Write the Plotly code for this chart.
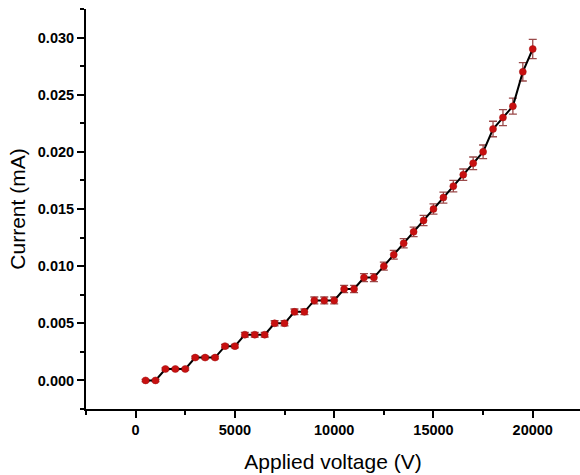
import plotly.graph_objects as go

# Applied voltage (V)
voltage = [500, 1000, 1500, 2000, 2500, 3000, 3500, 4000, 4500, 5000,
           5500, 6000, 6500, 7000, 7500, 8000, 8500, 9000, 9500, 10000,
           10500, 11000, 11500, 12000, 12500, 13000, 13500, 14000, 14500, 15000,
           15500, 16000, 16500, 17000, 17500, 18000, 18500, 19000, 19500, 20000]

# Measured current (mA)
current = [0.000, 0.000, 0.001, 0.001, 0.001, 0.002, 0.002, 0.002, 0.003, 0.003,
           0.004, 0.004, 0.004, 0.005, 0.005, 0.006, 0.006, 0.007, 0.007, 0.007,
           0.008, 0.008, 0.009, 0.009, 0.010, 0.011, 0.012, 0.013, 0.014, 0.015,
           0.016, 0.017, 0.018, 0.019, 0.020, 0.022, 0.023, 0.024, 0.027, 0.029]

# Standard deviation of the current (mA)
current_err = [0.0001, 0.0001, 0.0001, 0.0001, 0.0001, 0.00012, 0.00012, 0.00012, 0.00015, 0.00015,
               0.0002, 0.0002, 0.0002, 0.00022, 0.00022, 0.00025, 0.00025, 0.0003, 0.0003, 0.0003,
               0.00032, 0.00032, 0.00035, 0.00035, 0.00035, 0.00038, 0.0004, 0.00042, 0.00045, 0.00045,
               0.00048, 0.0005, 0.0005, 0.00055, 0.0006, 0.00068, 0.0007, 0.0007, 0.0008, 0.00085]

FONT = "Liberation Sans, Arial, sans-serif"

fig = go.Figure()
fig.add_trace(go.Scatter(
    x=voltage,
    y=current,
    mode="lines+markers",
    line=dict(color="black", width=2),
    marker=dict(color="#c81010", size=7, symbol="circle",
                line=dict(color="#a01010", width=0.5)),
    error_y=dict(type="data", array=current_err, visible=True,
                 color="#9a4a4a", thickness=1.3, width=4),
    showlegend=False,
))

axis_common = dict(
    showline=True,
    linecolor="black",
    linewidth=2,
    ticks="outside",
    ticklen=7,
    tickwidth=2,
    tickcolor="black",
    showgrid=False,
    zeroline=False,
    mirror=False,
    tickfont=dict(family=FONT, size=14.5, color="black", weight="bold"),
)

fig.update_xaxes(
    **axis_common,
    range=[-2500, 22380],
    tick0=0,
    dtick=5000,
    tickformat="d",
    minor=dict(dtick=2500, tick0=0, ticks="outside", ticklen=4, tickwidth=2,
               tickcolor="black", showgrid=False),
    title=dict(text="Applied voltage (V)",
               font=dict(family=FONT, size=21, color="black"), standoff=17),
)

fig.update_yaxes(
    **axis_common,
    range=[-0.0025, 0.0325],
    tick0=0,
    dtick=0.005,
    tickformat=".3f",
    minor=dict(dtick=0.0025, tick0=0, ticks="outside", ticklen=4, tickwidth=2,
               tickcolor="black", showgrid=False),
    title=dict(text="Current (mA)",
               font=dict(family=FONT, size=21, color="black"), standoff=6),
)

fig.update_layout(
    width=580,
    height=475,
    margin=dict(l=86, r=0, t=9, b=66, autoexpand=False),
    plot_bgcolor="white",
    paper_bgcolor="white",
)

fig.write_html("out.html")
